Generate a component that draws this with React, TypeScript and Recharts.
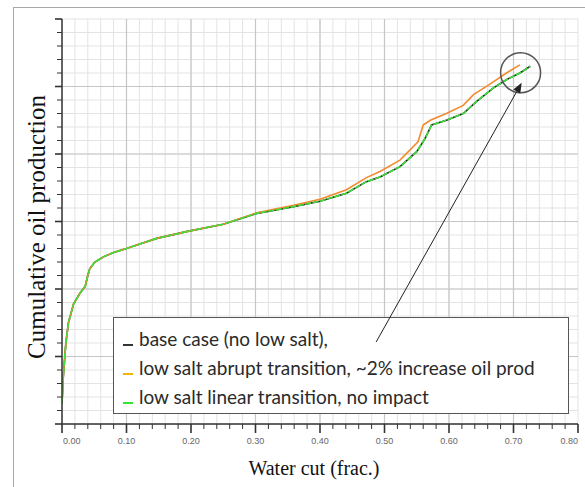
import { CartesianGrid, Line, LineChart, ReferenceDot, ReferenceLine, XAxis, YAxis } from 'recharts'

// water cut (frac.) vs cumulative oil production (arbitrary units, 0-30 grid steps)
const baseWaterCut = [
  0.0, 0.002, 0.006, 0.01, 0.018, 0.028, 0.036, 0.04, 0.043, 0.051, 0.065, 0.08, 0.1, 0.116, 0.147,
  0.193, 0.25, 0.302, 0.359, 0.4, 0.441, 0.472, 0.493, 0.524, 0.55, 0.563, 0.573, 0.596, 0.622,
  0.643, 0.669, 0.689, 0.71, 0.726,
]
const baseProd = [
  1.5, 3.5, 6.0, 7.5, 8.9, 9.7, 10.2, 11.0, 11.5, 12.0, 12.4, 12.7, 13.0, 13.26, 13.75, 14.25, 14.8,
  15.6, 16.1, 16.5, 17.1, 17.95, 18.3, 19.06, 20.17, 21.16, 22.15, 22.5, 23.0, 23.9, 24.9, 25.5, 26.0,
  26.5,
]
const abruptWaterCut = [
  0.0, 0.002, 0.006, 0.01, 0.018, 0.028, 0.036, 0.04, 0.043, 0.051, 0.065, 0.08, 0.1, 0.116, 0.147,
  0.193, 0.25, 0.302, 0.359, 0.4, 0.441, 0.472, 0.493, 0.524, 0.552, 0.56, 0.571, 0.596, 0.622,
  0.638, 0.664, 0.689, 0.71,
]
const abruptProd = [
  1.5, 3.5, 6.0, 7.5, 8.9, 9.7, 10.2, 11.0, 11.5, 12.0, 12.4, 12.7, 13.0, 13.26, 13.75, 14.25, 14.8,
  15.65, 16.2, 16.65, 17.35, 18.25, 18.7, 19.55, 20.9, 22.15, 22.5, 23.0, 23.6, 24.4, 25.2, 26.0,
  26.6,
]
const linearWaterCut = baseWaterCut
const linearProd = baseProd

const majorX = [0, 0.1, 0.2, 0.3, 0.4, 0.5, 0.6, 0.7, 0.8]
const majorY = [0, 5, 10, 15, 20, 25, 30]

const legendItems = [
  { label: 'base case (no low salt),', mark: '#333333' },
  { label: 'low salt abrupt transition, ~2% increase oil prod', mark: '#f5b20a' },
  { label: 'low salt linear transition, no impact', mark: '#2fe52f' },
]

// annotation: arrow from the legend text up to the circled curve ends
const arrowFrom = { x: 0.487, y: 6.07 }
const arrowTo = { x: 0.7127, y: 25.28 }
const circleAt = { x: 0.711, y: 26.02 }

const toPoints = (xs: number[], ys: number[]) => xs.map((x, i) => ({ x, y: ys[i] }))
const baseData = toPoints(baseWaterCut, baseProd)
const abruptData = toPoints(abruptWaterCut, abruptProd)
const linearData = toPoints(linearWaterCut, linearProd)

// minor ticks: 5 per major step
const minorX = Array.from({ length: 41 }, (_, i) => +(i * 0.02).toFixed(2))
const minorY = Array.from({ length: 31 }, (_, i) => i)

const isMajor = (v: number, step: number) => Math.abs(v / step - Math.round(v / step)) < 1e-6

const W = 585
const H = 487
const MARGIN = { top: 19, right: 7, bottom: 43, left: 42 }

function XTick({ x, y, payload }: any) {
  const v = payload.value as number
  const major = isMajor(v, 0.1)
  const anchor = v === 0 ? 'start' : v >= 0.8 ? 'end' : 'middle'
  const dx = v === 0 ? 1 : 0
  return (
    <g>
      <line x1={x} y1={y} x2={x} y2={y + (major ? 9 : 5)} stroke="#333" strokeWidth={major ? 1.6 : 1} />
      {major && (
        <text
          x={x + dx}
          y={y + 20}
          textAnchor={anchor}
          fontSize={9}
          fill="#666"
          fontFamily="Liberation Sans, Arial, sans-serif"
        >
          {v.toFixed(2)}
        </text>
      )}
    </g>
  )
}

function YTick({ x, y, payload }: any) {
  const major = isMajor(payload.value, 5)
  return <line x1={x} y1={y} x2={x - (major ? 7 : 5)} y2={y} stroke="#333" strokeWidth={major ? 1.6 : 1} />
}

function Arrow(p: any) {
  const { x1, y1, x2, y2 } = p
  const ang = Math.atan2(y2 - y1, x2 - x1)
  const len = 10
  const w = 4
  const bx = x2 - len * Math.cos(ang)
  const by = y2 - len * Math.sin(ang)
  const px = -Math.sin(ang) * w
  const py = Math.cos(ang) * w
  return (
    <g>
      <line x1={x1} y1={y1} x2={bx} y2={by} stroke="#222" strokeWidth={1} />
      <polygon points={`${x2},${y2} ${bx + px},${by + py} ${bx - px},${by - py}`} fill="#222" />
    </g>
  )
}

export default function App() {
  return (
    <div
      style={{
        position: 'fixed',
        left: 0,
        top: 0,
        width: W,
        height: H,
        background: '#fff',
        overflow: 'hidden',
      }}
    >
      <div
        style={{
          position: 'absolute',
          left: 13,
          top: 7,
          width: 600,
          height: 500,
          borderLeft: '1.5px solid #a8a8a8',
          borderTop: '1.5px solid #a8a8a8',
        }}
      />
      <div style={{ position: 'absolute', left: 0, top: 0 }}>
        <LineChart width={W} height={H} margin={MARGIN}>
          <CartesianGrid stroke="#e3e3e3" strokeWidth={1} />
          {majorX.slice(1, -1).map((v) => (
            <ReferenceLine key={'vx' + v} x={v} stroke="#c6c6c6" strokeWidth={1.2} ifOverflow="visible" />
          ))}
          {majorY.slice(1, -1).map((v) => (
            <ReferenceLine key={'hy' + v} y={v} stroke="#c6c6c6" strokeWidth={1.2} ifOverflow="visible" />
          ))}
          <XAxis
            type="number"
            dataKey="x"
            domain={[0, 0.8]}
            ticks={minorX}
            interval={0}
            height={20}
            tickSize={0}
            tickMargin={0}
            tickLine={false}
            tick={<XTick />}
            axisLine={{ stroke: '#333', strokeWidth: 1.5 }}
            allowDataOverflow
          />
          <YAxis
            type="number"
            dataKey="y"
            domain={[0, 30]}
            ticks={minorY}
            interval={0}
            width={20}
            tickSize={0}
            tickMargin={0}
            tickLine={false}
            tick={<YTick />}
            axisLine={{ stroke: '#333', strokeWidth: 1.5 }}
            allowDataOverflow
          />
          <Line
            data={baseData}
            dataKey="y"
            type="linear"
            stroke="#222"
            strokeWidth={1.6}
            dot={false}
            isAnimationActive={false}
          />
          <Line
            data={abruptData}
            dataKey="y"
            type="linear"
            stroke="#f28a2e"
            strokeWidth={1.6}
            dot={false}
            isAnimationActive={false}
          />
          <Line
            data={linearData}
            dataKey="y"
            type="linear"
            stroke="#3ee03a"
            strokeWidth={1.6}
            strokeDasharray="6 1.5"
            dot={false}
            isAnimationActive={false}
          />
          <ReferenceDot
            x={circleAt.x}
            y={circleAt.y}
            r={20}
            fill="none"
            stroke="#555"
            strokeWidth={1.5}
            ifOverflow="visible"
          />
        </LineChart>
      </div>
      <div
        style={{
          position: 'absolute',
          left: 113,
          top: 317,
          width: 456,
          height: 97,
          border: '1.5px solid #555',
          background: '#fff',
          fontFamily: 'Lato, sans-serif',
          fontSize: 19,
          color: '#2a2a2a',
          paddingTop: 6,
          boxSizing: 'border-box',
        }}
      >
        {legendItems.map((it) => (
          <div key={it.label} style={{ height: 29, lineHeight: '29px', whiteSpace: 'nowrap', paddingLeft: 9 }}>
            <span
              style={{
                display: 'inline-block',
                width: 10,
                height: 2,
                background: it.mark,
                marginRight: 6,
                verticalAlign: 'baseline',
              }}
            />
            {it.label}
          </div>
        ))}
      </div>
      {/* transparent overlay with the same scales, so the arrow sits above the legend box */}
      <div style={{ position: 'absolute', left: 0, top: 0, pointerEvents: 'none' }}>
        <LineChart width={W} height={H} margin={MARGIN}>
          <XAxis
            type="number"
            dataKey="x"
            domain={[0, 0.8]}
            ticks={majorX}
            height={20}
            tick={false}
            tickLine={false}
            axisLine={false}
            allowDataOverflow
          />
          <YAxis
            type="number"
            dataKey="y"
            domain={[0, 30]}
            ticks={majorY}
            width={20}
            tick={false}
            tickLine={false}
            axisLine={false}
            allowDataOverflow
          />
          <ReferenceLine segment={[arrowFrom, arrowTo]} ifOverflow="visible" shape={Arrow} />
        </LineChart>
      </div>
      <svg width={W} height={H} style={{ position: 'absolute', left: 0, top: 0, pointerEvents: 'none' }}>
        <text
          x={314}
          y={475}
          textAnchor="middle"
          fontFamily="Liberation Serif, Times New Roman, serif"
          fontSize={20}
          fill="#111"
        >
          Water cut (frac.)
        </text>
        <text
          transform="translate(45 227) rotate(-90)"
          textAnchor="middle"
          fontFamily="Liberation Serif, Times New Roman, serif"
          fontSize={25}
          fill="#111"
        >
          Cumulative oil production
        </text>
      </svg>
    </div>
  )
}
